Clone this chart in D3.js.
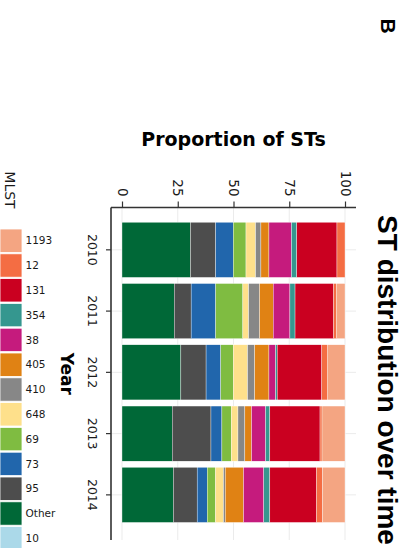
<!DOCTYPE html>
<html>
<head>
<meta charset="utf-8">
<script src="https://cdn.jsdelivr.net/npm/d3@7"></script>
<style>
  html, body { margin: 0; padding: 0; background: #fff; }
  svg { display: block; }
</style>
</head>
<body>
<svg id="chart" width="413" height="548"></svg>
<script>
// Years shown on the category axis
const years = ["2010", "2011", "2012", "2013", "2014"];

// Share (%) of each sequence type per year, stacking from the axis outwards
const stOther = [30.7, 23.4, 26.4, 22.5, 23.0];
const st95    = [11.3,  7.6, 11.3, 17.4, 10.7];
const st73    = [ 7.9, 11.0,  6.6,  4.9,  4.5];
const st69    = [ 5.7, 12.2,  5.6,  4.2,  3.7];
const st648   = [ 4.3,  2.6,  6.4,  3.0,  3.6];
const st410   = [ 2.4,  4.9,  3.2,  3.1,  0.8];
const st405   = [ 3.6,  6.1,  6.4,  3.0,  8.2];
const st38    = [10.1,  7.5,  3.0,  6.3,  9.1];
const st354   = [ 2.4,  2.3,  0.7,  1.9,  2.7];
const st131   = [18.0, 17.3, 20.0, 22.5, 20.9];
const st12    = [ 3.6,  1.4,  2.7,  0.9,  2.7];
const st1193  = [ 0.0,  3.7,  7.7, 10.3, 10.1];
const st10    = [ 0.0,  0.0,  0.0,  0.0,  0.0];

// Stack order (first = nearest the zero line)
const stackKeys = ["Other", "95", "73", "69", "648", "410", "405", "38", "354", "131", "12", "1193", "10"];
// Legend order
const legendKeys = ["1193", "12", "131", "354", "38", "405", "410", "648", "69", "73", "95", "Other", "10"];
const valueTicks = [0, 25, 50, 75, 100];

const colors = {
  "1193": "#F4A582", "12": "#F46D43", "131": "#CA0020", "354": "#35978F",
  "38": "#C51B7D", "405": "#E08214", "410": "#878787", "648": "#FEE08B",
  "69": "#7FBC41", "73": "#2166AC", "95": "#4D4D4D", "Other": "#006837",
  "10": "#ABD9E9"
};

const seriesByKey = {
  "Other": stOther, "95": st95, "73": st73, "69": st69, "648": st648,
  "410": st410, "405": st405, "38": st38, "354": st354, "131": st131,
  "12": st12, "1193": st1193, "10": st10
};

const rows = years.map((yr, i) => {
  const r = { year: yr };
  stackKeys.forEach(k => { r[k] = seriesByKey[k][i]; });
  return r;
});

const svg = d3.select("#chart");

// Panel geometry (value axis runs left→right, years run top→bottom)
const panel = { left: 111, right: 356, top: 207.5, bottom: 540 };

const x = d3.scaleLinear().domain([0, 100]).range([122, 345]);
const y = d3.scaleBand().domain(years).range([219.2, 525.5])
  .paddingInner(0.1).paddingOuter(0.05);

const tickFont = "'DejaVu Sans', Verdana, sans-serif";

// Grid lines
const grid = svg.append("g");
grid.selectAll("line.v").data(valueTicks).join("line")
  .attr("x1", d => x(d)).attr("x2", d => x(d))
  .attr("y1", panel.top).attr("y2", panel.bottom)
  .attr("stroke", "#ebebeb").attr("stroke-width", 1);
grid.selectAll("line.h").data(years).join("line")
  .attr("y1", d => y(d) + y.bandwidth() / 2).attr("y2", d => y(d) + y.bandwidth() / 2)
  .attr("x1", panel.left).attr("x2", panel.right)
  .attr("stroke", "#ebebeb").attr("stroke-width", 1);

// Stacked bars
const stacked = d3.stack().keys(stackKeys)(rows);
svg.append("g").selectAll("g").data(stacked).join("g")
  .attr("fill", d => colors[d.key])
  .selectAll("rect").data(d => d.filter(p => p[1] > p[0])).join("rect")
  .attr("x", d => x(d[0]))
  .attr("width", d => x(d[1]) - x(d[0]))
  .attr("y", d => y(d.data.year))
  .attr("height", y.bandwidth())
  .attr("stroke", "#ffffff").attr("stroke-width", 0.35);

// Value axis (drawn along the top of the panel)
const xAxis = svg.append("g")
  .attr("transform", `translate(0,${panel.top})`)
  .call(d3.axisTop(x).tickValues(valueTicks).tickSize(6).tickSizeOuter(0));
xAxis.select(".domain").attr("d", `M${panel.left},0H${panel.right}`)
  .attr("stroke", "#333").attr("stroke-width", 1.6);
xAxis.selectAll(".tick line").attr("stroke", "#333").attr("stroke-width", 1.2);
xAxis.selectAll(".tick text")
  .attr("x", 0).attr("y", 0).attr("dy", "0.36em")
  .attr("transform", "translate(0,-11) rotate(90)")
  .attr("text-anchor", "end")
  .attr("fill", "#1a1a1a")
  .style("font-family", tickFont).style("font-size", "13.5px");

// Year axis (drawn along the left of the panel)
const yAxis = svg.append("g")
  .attr("transform", `translate(${panel.left},0)`)
  .call(d3.axisLeft(y).tickSize(5).tickSizeOuter(0));
yAxis.select(".domain").attr("d", `M0,${panel.top}V${panel.bottom}`)
  .attr("stroke", "#333").attr("stroke-width", 1.6);
yAxis.selectAll(".tick line").attr("stroke", "#333").attr("stroke-width", 1.2);
yAxis.selectAll(".tick text")
  .attr("x", 0).attr("y", 0).attr("dy", "0")
  .attr("transform", "translate(-23,0) rotate(90)")
  .attr("text-anchor", "middle")
  .attr("fill", "#1a1a1a")
  .style("font-family", tickFont).style("font-size", "12.5px");

// Axis titles
svg.append("text")
  .attr("x", (x(0) + x(100)) / 2).attr("y", 146)
  .attr("text-anchor", "middle")
  .style("font-family", tickFont).style("font-weight", "bold").style("font-size", "19px")
  .text("Proportion of STs");

svg.append("text")
  .attr("transform", `translate(61,${(panel.top + panel.bottom) / 2}) rotate(90)`)
  .attr("text-anchor", "middle")
  .style("font-family", tickFont).style("font-weight", "bold").style("font-size", "17px")
  .text("Year");

// Chart title and panel letter
const titleFont = "'Liberation Sans', Arial, sans-serif";
svg.append("text")
  .attr("transform", "translate(378,380) rotate(90)")
  .attr("text-anchor", "middle")
  .style("font-family", titleFont).style("font-weight", "bold").style("font-size", "28px")
  .text("ST distribution over time");

svg.append("text")
  .attr("transform", "translate(381,26) rotate(90)")
  .attr("text-anchor", "middle")
  .style("font-family", titleFont).style("font-weight", "bold").style("font-size", "21px")
  .text("B");

// Legend
const legendStep = 24.8;
const legendTop = 240.7;
svg.append("text")
  .attr("transform", "translate(5,190) rotate(90)")
  .attr("text-anchor", "middle")
  .style("font-family", tickFont).style("font-size", "14px")
  .attr("fill", "#1a1a1a")
  .text("MLST");

const legend = svg.append("g").selectAll("g").data(legendKeys).join("g")
  .attr("transform", (d, i) => `translate(0,${legendTop + i * legendStep})`);
legend.append("rect")
  .attr("x", 0).attr("y", -11.7).attr("width", 22).attr("height", 23.4)
  .attr("fill", d => colors[d]).attr("stroke", "#ffffff").attr("stroke-width", 0.8);
legend.append("text")
  .attr("x", 25.5).attr("y", 0).attr("dy", "0.36em")
  .style("font-family", tickFont).style("font-size", "10.5px")
  .attr("fill", "#1a1a1a")
  .text(d => d);
</script>
</body>
</html>
